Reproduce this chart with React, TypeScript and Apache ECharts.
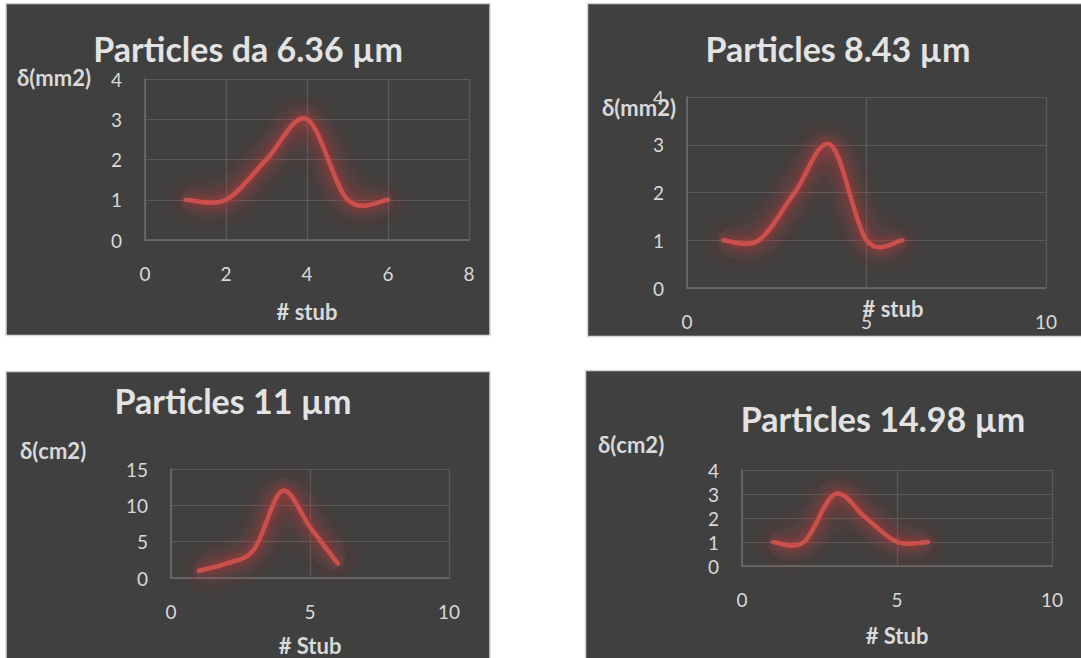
import React, { useEffect, useRef } from "react";
import * as echarts from "echarts";

const stubs = [1, 2, 3, 4, 5, 6];
const values636 = [1, 1, 2, 3, 1, 1];
const values843 = [1, 1, 2, 3, 1, 1];
const values11 = [1, 2, 4, 12, 7, 2];
const values1498 = [1, 1, 3, 2, 1, 1];

const titles = ["Particles da 6.36 µm", "Particles 8.43 µm", "Particles 11 µm", "Particles 14.98 µm"];
const yNames = ["δ(mm2)", "δ(mm2)", "δ(cm2)", "δ(cm2)"];
const xNames = ["# stub", "# stub", "# Stub", "# Stub"];
const xMax = [8, 10, 10, 10];
const xInterval = [2, 5, 5, 5];
const yMax = [4, 4, 15, 4];
const yInterval = [1, 1, 5, 1];

const FONT = "Lato";
const TXT = "#d9d9d9";
const BG = "#404040";
const LINE = "#c9504b";

// Excel-like smoothed line (Catmull-Rom through the data points, positioned via the axes)
function makeRender(vals: number[]) {
  return (params: any, api: any) => {
    if (params.dataIndex !== 0) return { type: "group", children: [] };
    const n = vals.length;
    const P = (j: number) => {
      const jj = Math.max(0, Math.min(n - 1, j));
      return api.coord([stubs[jj], vals[jj]]);
    };
    const start = P(0);
    let d = `M${start[0]},${start[1]}`;
    for (let k = 0; k < n - 1; k++) {
      const p0 = P(k - 1), p1 = P(k), p2 = P(k + 1), p3 = P(k + 2);
      const c1x = p1[0] + (p2[0] - p0[0]) / 6;
      const c1y = p1[1] + (p2[1] - p0[1]) / 6;
      const c2x = p2[0] - (p3[0] - p1[0]) / 6;
      const c2y = p2[1] - (p3[1] - p1[1]) / 6;
      d += ` C${c1x},${c1y} ${c2x},${c2y} ${p2[0]},${p2[1]}`;
    }
    const glow = (blur: number, alpha: number) => ({
      type: "path",
      shape: { pathData: d },
      style: {
        fill: "none",
        stroke: LINE,
        lineWidth: 4,
        lineCap: "round",
        lineJoin: "round",
        shadowBlur: blur,
        shadowColor: `rgba(205,55,55,${alpha})`,
      },
    });
    return {
      type: "group",
      children: [
        glow(30, 1),
        glow(20, 1),
        glow(10, 0.8),
        {
          type: "path",
          shape: { pathData: d },
          style: {
            fill: "none",
            stroke: LINE,
            lineWidth: 3.5,
            lineCap: "round",
            lineJoin: "round",
          },
        },
      ],
    };
  };
}

export default function App() {
  const ref = useRef<HTMLDivElement>(null);
  useEffect(() => {
    const chart = echarts.init(ref.current!, null, { renderer: "svg" });
    const seriesData = [values636, values843, values11, values1498];
    const grids = [
      { left: 145, top: 79, width: 324, height: 161 },
      { left: 687, top: 97, width: 359, height: 191 },
      { left: 171, top: 469, width: 278, height: 109 },
      { left: 742, top: 470, width: 310, height: 96 },
    ];
    const panels = [
      { x: 6, y: 3.5, w: 484, h: 332 },
      { x: 587.5, y: 3.5, w: 500, h: 333 },
      { x: 6, y: 371.5, w: 484, h: 300 },
      { x: 585.5, y: 370.5, w: 500, h: 300 },
    ];
    const titlePos = [
      [248, 48],
      [838, 48],
      [233, 400],
      [883, 418],
    ];
    const yNamePos = [
      [17, 77],
      [602, 107],
      [20, 450],
      [598, 444],
    ];
    const xNamePos = [
      [307, 311],
      [893, 308],
      [310, 645],
      [897, 635],
    ];
    const graphic: any[] = [];
    panels.forEach((p) => {
      graphic.push({
        type: "rect",
        z: -10,
        shape: { x: p.x, y: p.y, width: p.w, height: p.h },
        style: { fill: BG, stroke: "#d6d6d6", lineWidth: 1.5 },
        silent: true,
      });
    });
    yNamePos.forEach((p, i) => {
      graphic.push({
        type: "text",
        x: p[0],
        y: p[1],
        style: {
          text: yNames[i],
          fill: TXT,
          font: `bold 22px ${FONT}`,
          textAlign: "left",
          textVerticalAlign: "middle",
        },
      });
    });
    xNamePos.forEach((p, i) => {
      graphic.push({
        type: "text",
        x: p[0],
        y: p[1],
        z: 10,
        style: {
          text: xNames[i],
          fill: TXT,
          font: `bold 22px ${FONT}`,
          textAlign: "center",
          textVerticalAlign: "middle",
        },
      });
    });

    const option: any = {
      animation: false,
      backgroundColor: "#ffffff",
      title: titles.map((t, i) => ({
        text: t,
        left: titlePos[i][0],
        top: titlePos[i][1],
        textAlign: "center",
        textVerticalAlign: "middle",
        padding: 0,
        textStyle: { color: "#e3e3e3", fontFamily: FONT, fontWeight: "bold", fontSize: 34 },
      })),
      grid: grids.map((g) => ({ ...g, containLabel: false })),
      xAxis: grids.map((_, i) => ({
        type: "value",
        gridIndex: i,
        min: 0,
        max: xMax[i],
        interval: xInterval[i],
        axisLine: { show: true, lineStyle: { color: "#6e6e6e", width: 1.5 } },
        axisTick: { show: false },
        axisLabel: { color: TXT, fontFamily: FONT, fontSize: 19, margin: 24 },
        splitLine: { show: true, lineStyle: { color: "#5a5a5a", width: 1.2 } },
      })),
      yAxis: grids.map((_, i) => ({
        type: "value",
        gridIndex: i,
        min: 0,
        max: yMax[i],
        interval: yInterval[i],
        axisLine: { show: true, lineStyle: { color: "#6e6e6e", width: 1.5 } },
        axisTick: { show: false },
        axisLabel: { color: TXT, fontFamily: FONT, fontSize: 19, margin: 23 },
        splitLine: { show: true, lineStyle: { color: "#5a5a5a", width: 1.2 } },
      })),
      series: seriesData.map((vals, i) => ({
        type: "custom",
        name: titles[i],
        coordinateSystem: "cartesian2d",
        xAxisIndex: i,
        yAxisIndex: i,
        data: stubs.map((s, k) => [s, vals[k]]),
        renderItem: makeRender(vals),
        clip: false,
      })),
      graphic,
    };
    chart.setOption(option);
    return () => chart.dispose();
  }, []);
  return (
    <div
      ref={ref}
      style={{ position: "fixed", left: 0, top: 0, width: 1081, height: 658, background: "#fff" }}
    />
  );
}
